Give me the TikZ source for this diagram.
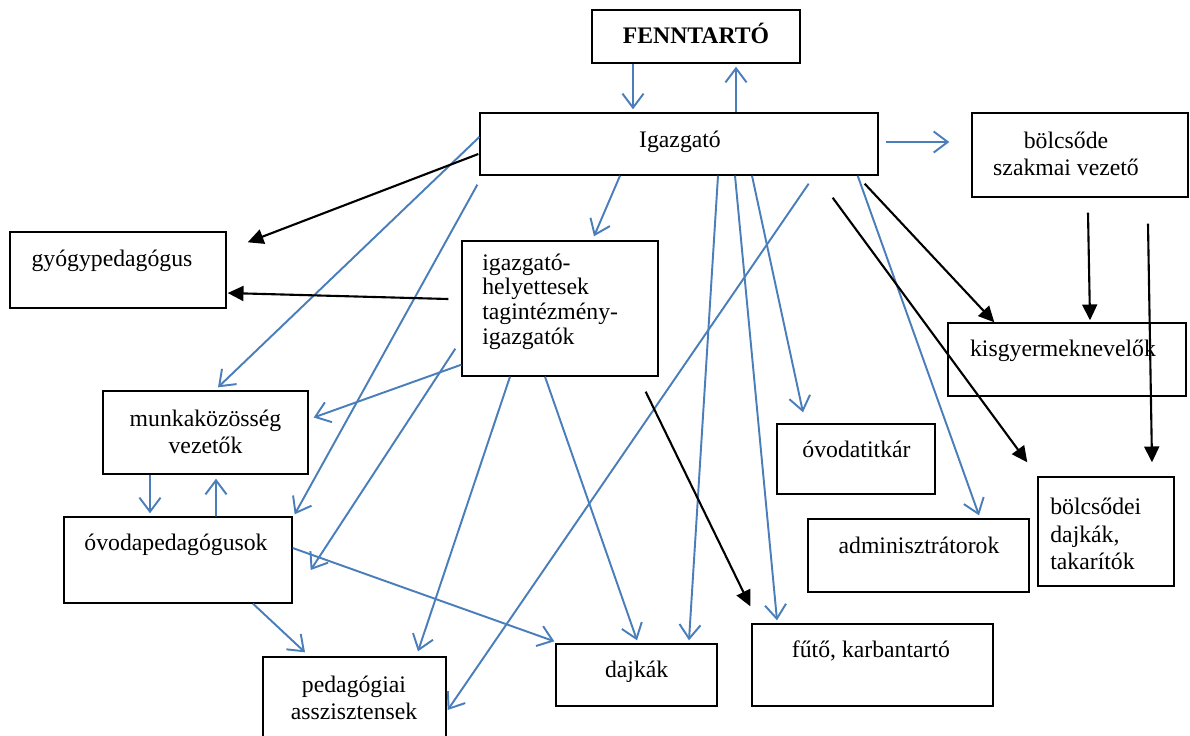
\documentclass[tikz,border=0pt]{standalone}
\usepackage{fontspec}
\setmainfont{Liberation Serif}
\usepackage{tikz}
\usetikzlibrary{arrows.meta}
\definecolor{lineblue}{RGB}{74,126,187}

\begin{document}
\begin{tikzpicture}[x=0.02cm,y=-0.02cm,
  box/.style={draw,line width=0.8pt,inner sep=0pt},
  lbl/.style={inner sep=0pt,font=\fontsize{13.5}{15.5}\selectfont},
  barrow/.style={draw=lineblue,line width=1.1pt,-{Straight Barb[length=8pt,width=12pt,line width=1.1pt]}},
  karrow/.style={draw=black,line width=1.2pt,-{Triangle[length=9pt,width=8.5pt]}}]
  \useasboundingbox (0,0) rectangle (1190,735);

  \node at(696,36.5)[box,minimum width=4.16cm,minimum height=1.06cm](fenn){};
  \node at(679,144)[box,minimum width=7.96cm,minimum height=1.24cm](igaz){};
  \node at(1080,155)[box,minimum width=4.32cm,minimum height=1.68cm](bolcs){};
  \node at(118,270)[box,minimum width=4.32cm,minimum height=1.52cm](gyogy){};
  \node at(560,308.5)[box,minimum width=3.92cm,minimum height=2.70cm](helyet){};
  \node at(1067,359.5)[box,minimum width=4.76cm,minimum height=1.46cm](kisgy){};
  \node at(205.5,432.5)[box,minimum width=4.10cm,minimum height=1.66cm](munka){};
  \node at(856,459)[box,minimum width=3.16cm,minimum height=1.40cm](titkar){};
  \node at(1106,531.5)[box,minimum width=2.72cm,minimum height=2.18cm](bdajka){};
  \node at(918.5,555.5)[box,minimum width=4.42cm,minimum height=1.46cm](admin){};
  \node at(178,560)[box,minimum width=4.56cm,minimum height=1.72cm](ovped){};
  \node at(872.5,665)[box,minimum width=4.82cm,minimum height=1.64cm](futo){};
  \node at(636.5,675)[box,minimum width=3.22cm,minimum height=1.24cm](dajka){};
  \node at(354.5,701)[box,minimum width=3.66cm,minimum height=1.76cm](pedasz){};

  \node at(696,43)[lbl,anchor=base](fenntxt){\textbf{FENNTARTÓ}};
  \node at(680,147)[lbl,anchor=base](igaztxt){Igazgató};
  \node at(1066,154)[lbl,align=center](bolcstxt){bölcsőde\\szakmai vezető};
  \node at(112,266)[lbl,anchor=base](gyogytxt){gyógypedagógus};
  \node at(482,301.5)[lbl,anchor=west,align=left,font=\fontsize{13.5}{14}\selectfont](helyettxt){igazgató-\\helyettesek\\tagintézmény-\\igazgatók};
  \node at(1063,356)[lbl,anchor=base](kisgytxt){kisgyermeknevelők};
  \node at(205.5,431.5)[lbl,align=center](munkatxt){munkaközösség\\vezetők};
  \node at(856.5,457)[lbl,anchor=base](titkartxt){óvodatitkár};
  \node at(1050,534)[lbl,anchor=west,align=left](bdajkatxt){bölcsődei\\dajkák,\\takarítók};
  \node at(919,553)[lbl,anchor=base](admintxt){adminisztrátorok};
  \node at(176,550)[lbl,anchor=base](ovpedtxt){óvodapedagógusok};
  \node at(871,657)[lbl,anchor=base](futotxt){fűtő, karbantartó};
  \node at(636.7,677)[lbl,anchor=base](dajkatxt){dajkák};
  \node at(354,697.5)[lbl,align=center](pedasztxt){pedagógiai\\asszisztensek};

  % blue lines
  \draw [barrow]([shift={(-63,0)}]fenn.south) -- ([shift={(-46,-3)}]igaz.north);
  \draw [barrow]([shift={(57,0)}]igaz.north) -- ([shift={(40,3)}]fenn.south);
  \draw [barrow]([shift={(7,-2)}]igaz.east) -- ([shift={(-22,-13)}]bolcs.west);
  \draw [barrow]([shift={(-59,0)}]igaz.south) -- ([shift={(34,-4)}]helyet.north);
  \draw [barrow]([shift={(0,-7)}]igaz.west) -- ([shift={(12.5,-3)}]munka.north);
  \draw [barrow]([shift={(-2,9)}]igaz.south west) -- ([shift={(2,-2)}]ovped.north east);
  \draw [barrow]([shift={(0,-12)}]helyet.south west) -- ([shift={(5,-15)}]munka.east);
  \draw [barrow]([shift={(-6,-28)}]helyet.south west) -- ([shift={(18,10)}]ovped.east);
  \draw [barrow]([shift={(-50,0)}]helyet.south) -- ([shift={(63.5,-5)}]pedasz.north);
  \draw [barrow]([shift={(-15,0)}]helyet.south) -- ([shift={(0.5,-3)}]dajka.north);
  \draw [barrow]([shift={(39,0)}]igaz.south) -- ([shift={(52.5,-3)}]dajka.north);
  \draw [barrow]([shift={(56,0)}]igaz.south) -- ([shift={(-95.5,-3)}]futo.north);
  \draw [barrow]([shift={(73,0)}]igaz.south) -- ([shift={(-53,-11)}]titkar.north);
  \draw [barrow]([shift={(-21,0)}]igaz.south east) -- ([shift={(60.5,-3)}]admin.north);
  \draw [barrow]([shift={(-70,8)}]igaz.south east) -- ([shift={(1,9)}]pedasz.east);
  \draw [barrow]([shift={(-55.5,0)}]munka.south) -- ([shift={(-28,-3)}]ovped.north);
  \draw [barrow]([shift={(38,0)}]ovped.north) -- ([shift={(10.5,4)}]munka.south);
  \draw [barrow]([shift={(75,0)}]ovped.south) -- ([shift={(-49.5,-4)}]pedasz.north);
  \draw [barrow]([shift={(0,-12)}]ovped.east) -- ([shift={(-1,-2)}]dajka.north west);

  % black lines
  \draw [karrow]([shift={(-1,10)}]igaz.west) -- ([shift={(21,11)}]gyogy.north east);
  \draw [karrow]([shift={(-13,-9.5)}]helyet.west) -- ([shift={(1,23)}]gyogy.east);
  \draw [karrow]([shift={(-13,15)}]helyet.south east) -- ([shift={(-1,-17)}]futo.north west);
  \draw [karrow]([shift={(-14,8)}]igaz.south east) -- ([shift={(47,0)}]kisgy.north west);
  \draw [karrow]([shift={(-46,22)}]igaz.south east) -- ([shift={(-10,-14)}]bdajka.north west);
  \draw [karrow]([shift={(8,15)}]bolcs.south) -- ([shift={(23,-2)}]kisgy.north);
  \draw [karrow]([shift={(68,26)}]bolcs.south) -- ([shift={(46,-14)}]bdajka.north);
\end{tikzpicture}
\end{document}
